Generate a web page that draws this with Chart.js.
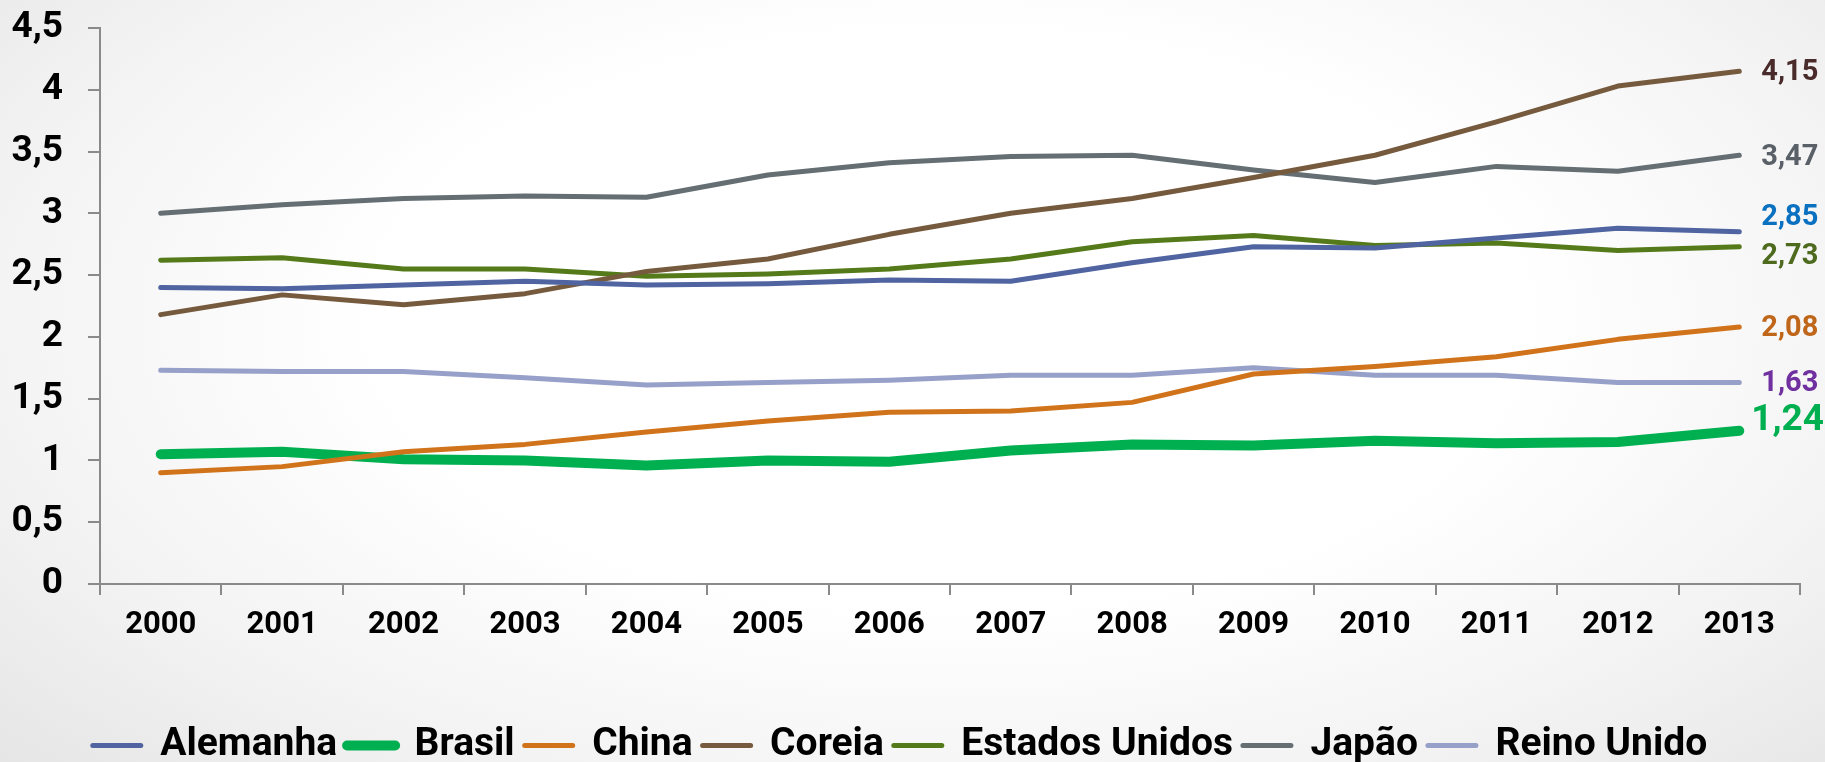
<!DOCTYPE html>
<html>
<head>
<meta charset="utf-8">
<script src="https://cdn.jsdelivr.net/npm/chart.js@4"></script>
<style>
  html, body { margin: 0; padding: 0; }
  body {
    width: 1825px; height: 762px; overflow: hidden;
    background: radial-gradient(ellipse 70% 85% at 52% 42%, #ffffff 45%, #f3f3f3 75%, #e6e6e6 100%);
  }
  #wrap { position: relative; width: 1825px; height: 762px; }
</style>
</head>
<body>
<div id="wrap"><canvas id="grafico" width="1825" height="762"></canvas></div>
<script>
// anos e valores
const anos = ['2000', '2001', '2002', '2003', '2004', '2005', '2006', '2007', '2008', '2009', '2010', '2011', '2012', '2013'];

const alemanha   = [2.40, 2.39, 2.42, 2.45, 2.42, 2.43, 2.46, 2.45, 2.60, 2.73, 2.72, 2.80, 2.88, 2.85];
const brasil     = [1.05, 1.07, 1.01, 1.00, 0.96, 1.00, 0.99, 1.08, 1.13, 1.12, 1.16, 1.14, 1.15, 1.24];
const china      = [0.90, 0.95, 1.07, 1.13, 1.23, 1.32, 1.39, 1.40, 1.47, 1.70, 1.76, 1.84, 1.98, 2.08];
const coreia     = [2.18, 2.34, 2.26, 2.35, 2.53, 2.63, 2.83, 3.00, 3.12, 3.29, 3.47, 3.74, 4.03, 4.15];
const eua        = [2.62, 2.64, 2.55, 2.55, 2.49, 2.51, 2.55, 2.63, 2.77, 2.82, 2.74, 2.76, 2.70, 2.73];
const japao      = [3.00, 3.07, 3.12, 3.14, 3.13, 3.31, 3.41, 3.46, 3.47, 3.35, 3.25, 3.38, 3.34, 3.47];
const reinoUnido = [1.73, 1.72, 1.72, 1.67, 1.61, 1.63, 1.65, 1.69, 1.69, 1.75, 1.69, 1.69, 1.63, 1.63];

const paises = ['Alemanha', 'Brasil', 'China', 'Coreia', 'Estados Unidos', 'Japão', 'Reino Unido'];
const series = [alemanha, brasil, china, coreia, eua, japao, reinoUnido];

const cores      = ['#4f64a0', '#00b050', '#d0731a', '#765a3e', '#557a1a', '#646e73', '#97a0c8'];
const espessuras = [5, 10, 5, 5, 5, 5, 5];
// rotulo do fim de cada linha
const corRotulo  = ['#0a70c0', '#00b050', '#c0661a', '#4a2b2b', '#4e6a1e', '#596067', '#7030a0'];
const tamRotulo  = [29, 37, 29, 29, 29, 29, 29];
const desvioY    = [-14, -10, 2, 2, 10, 2, 1];

const fonte = 'Roboto';

const rotulosFinais = {
  id: 'rotulosFinais',
  afterDatasetsDraw(chart) {
    const ctx = chart.ctx;
    ctx.save();
    ctx.textAlign = 'left';
    ctx.textBaseline = 'middle';
    chart.data.datasets.forEach((ds, i) => {
      const meta = chart.getDatasetMeta(i);
      const pt = meta.data[meta.data.length - 1];
      const v = ds.data[ds.data.length - 1];
      ctx.font = 'bold ' + tamRotulo[i] + 'px ' + fonte;
      ctx.fillStyle = corRotulo[i];
      const dx = i === 1 ? 12 : 22;
      ctx.fillText(v.toFixed(2).replace('.', ','), pt.x + dx, pt.y + desvioY[i]);
    });
    ctx.restore();
  }
};

const c1 = document.getElementById('grafico');

new Chart(c1, {
  type: 'line',
  data: {
    labels: anos,
    datasets: paises.map((p, i) => ({
      label: p,
      data: series[i],
      borderColor: cores[i],
      backgroundColor: cores[i],
      borderWidth: espessuras[i],
      borderCapStyle: 'round',
      borderJoinStyle: 'round',
      pointRadius: 0,
      tension: 0,
      fill: false,
      order: i === 1 ? 1 : 0
    }))
  },
  options: {
    responsive: false,
    animation: false,
    devicePixelRatio: 1,
    layout: {
      padding: { top: 28, right: 25, bottom: -13, left: 0 }
    },
    plugins: {
      tooltip: { enabled: false },
      legend: {
        display: true,
        position: 'bottom',
        labels: {
          usePointStyle: true,
          pointStyleWidth: 48,
          padding: 10,
          color: '#000',
          font: { family: fonte, size: 39, weight: 'bold' },
          sort: (a, b) => a.datasetIndex - b.datasetIndex,
          generateLabels: (chart) => paises.map((p, i) => ({
            text: p,
            datasetIndex: i,
            fillStyle: cores[i],
            strokeStyle: cores[i],
            lineWidth: espessuras[i],
            lineCap: 'round',
            pointStyle: 'line',
            fontColor: '#000',
            hidden: false
          }))
        }
      }
    },
    scales: {
      x: {
        offset: true,
        afterFit: (s) => { s.height = 132; },
        border: { color: '#8a8a8a', width: 2 },
        grid: { display: true, offset: true, drawOnChartArea: false, tickLength: 11, color: '#8a8a8a', lineWidth: 2 },
        ticks: { color: '#000', padding: 12, maxRotation: 0, font: { family: fonte, size: 31, weight: 'bold' } }
      },
      y: {
        min: 0,
        max: 4.5,
        afterFit: (s) => { s.width = 100; s.paddingTop = 0; s.paddingBottom = 0; },
        border: { color: '#8a8a8a', width: 2 },
        grid: { display: true, drawOnChartArea: false, tickLength: 12, color: '#8a8a8a', lineWidth: 2 },
        ticks: {
          stepSize: 0.5,
          padding: 25,
          color: '#000',
          font: { family: fonte, size: 37, weight: 'bold' },
          callback: (v) => String(v).replace('.', ',')
        }
      }
    }
  },
  plugins: [rotulosFinais]
});
</script>
</body>
</html>
